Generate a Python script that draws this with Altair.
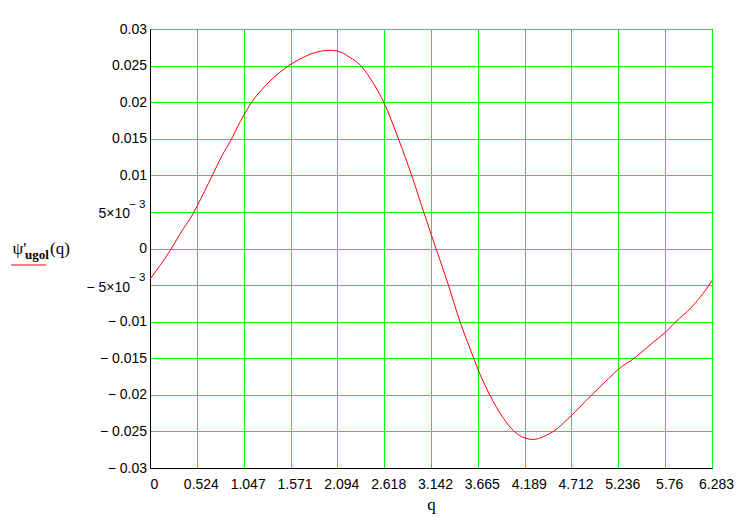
import json
import altair as alt
import pandas as pd

# ---- curve data ----
q_vals = [0.000, 0.224, 0.373, 0.440, 0.522, 0.697, 0.801, 0.913, 0.977, 1.044,
          1.137, 1.249, 1.342, 1.454, 1.565, 1.677, 1.826, 2.013, 2.143, 2.236,
          2.348, 2.460, 2.613, 2.777, 2.925, 3.057, 3.150, 3.336, 3.466,
          3.597, 3.653, 3.802, 3.951, 4.063, 4.190, 4.286, 4.400, 4.510,
          4.696, 4.939, 5.125, 5.237, 5.423, 5.628, 5.766, 5.870, 6.056, 6.186, 6.283]
psi_vals = [-0.0042, -0.0003, 0.0027, 0.0039, 0.0057, 0.0100, 0.0126, 0.0150, 0.0166, 0.0181,
            0.0200, 0.0217, 0.0229, 0.0241, 0.0251, 0.0259, 0.0267, 0.0271, 0.0268, 0.0261,
            0.0251, 0.0233, 0.0200, 0.0150, 0.0100, 0.0051, 0.0017, -0.0050, -0.0100,
            -0.0143, -0.0161, -0.0201, -0.0232, -0.0249, -0.0259, -0.0261, -0.0257, -0.0250,
            -0.0230, -0.0200, -0.0178, -0.0165, -0.0149, -0.0128, -0.0114, -0.0101, -0.0080, -0.0061, -0.0044]

# ---- axis ticks and labels ----
x_ticks = [0, 0.524, 1.047, 1.571, 2.094, 2.618, 3.142, 3.665, 4.189, 4.712, 5.236, 5.76, 6.283]
x_tick_labels = ["0", "0.524", "1.047", "1.571", "2.094", "2.618", "3.142", "3.665",
                 "4.189", "4.712", "5.236", "5.76", "6.283"]
y_ticks = [0.03, 0.025, 0.02, 0.015, 0.01, 0.005, 0, -0.005, -0.01, -0.015, -0.02, -0.025, -0.03]
y_tick_labels = ["0.03", "0.025", "0.02", "0.015", "0.01", "", "0", "",
                 "\u2212 0.01", "\u2212 0.015", "\u2212 0.02", "\u2212 0.025", "\u2212 0.03"]
exp_vals = [0.005, -0.005]
exp_mant = ["5\u00d710", "\u2212 5\u00d710"]
exp_pow = ["\u2212 3", "\u2212 3"]

curve = pd.DataFrame({"q": q_vals, "psi": psi_vals})
exp_df = pd.DataFrame({"v": exp_vals, "m": exp_mant, "p": exp_pow})
one = pd.DataFrame({"k": [0]})

x_expr = "%s[indexof(%s, datum.value)]" % (json.dumps(x_tick_labels, ensure_ascii=False), json.dumps(x_ticks))
y_expr = "%s[indexof(%s, datum.value)]" % (json.dumps(y_tick_labels, ensure_ascii=False), json.dumps(y_ticks))

xscale = alt.Scale(domain=[0, 6.283], nice=False, zero=False)
yscale = alt.Scale(domain=[-0.03, 0.03], nice=False, zero=False)

yaxis = alt.Axis(
    values=y_ticks, labelExpr=y_expr, grid=True, gridColor="#00ff00", gridWidth=1,
    ticks=False, domainColor="black", labelFont="Liberation Sans", labelFontSize=14,
    labelColor="black", labelPadding=3.5, labelOverlap=False, labelFlush=False,
    title=None)

line = alt.Chart(curve).mark_line(color="#ff0000", strokeWidth=1, interpolate="monotone").encode(
    x=alt.X("q:Q", scale=xscale, axis=alt.Axis(
        values=x_ticks, labelExpr=x_expr, grid=True, gridColor="#00ff00", gridWidth=1,
        ticks=False, domainColor="black", labelFont="Liberation Sans", labelFontSize=14,
        labelColor="black", labelPadding=9, labelOffset=4, labelFlush=False, labelOverlap=False,
        title="q", titleFont="Liberation Serif", titleFontSize=17, titleFontWeight="normal",
        titleColor="black", titleBaseline="alphabetic", titleY=41)),
    y=alt.Y("psi:Q", scale=yscale, axis=yaxis),
)

mant = alt.Chart(exp_df).mark_text(align="right", baseline="alphabetic", dy=6.5,
                                   font="Liberation Sans", fontSize=14, color="black").encode(
    x=alt.value(-20), y=alt.Y("v:Q", scale=yscale, axis=yaxis), text="m:N")
powt = alt.Chart(exp_df).mark_text(align="right", baseline="alphabetic", dy=-3.8,
                                   font="Liberation Sans", fontSize=11.5, color="black").encode(
    x=alt.value(-4.5), y=alt.Y("v:Q", scale=yscale, axis=yaxis), text="p:N")

leg_psi = alt.Chart(one).mark_text(align="left", baseline="alphabetic", font="Liberation Serif",
                                   fontSize=17, color="black", text="\u03c8'").encode(
    x=alt.value(-137.5), y=alt.value(225))
leg_sub = alt.Chart(one).mark_text(align="left", baseline="alphabetic", font="Liberation Serif",
                                   fontSize=13, fontWeight="bold", color="black", text="ugol").encode(
    x=alt.value(-125), y=alt.value(229.5))
leg_arg = alt.Chart(one).mark_text(align="left", baseline="alphabetic", font="Liberation Serif",
                                   fontSize=17, color="black", text="(q)").encode(
    x=alt.value(-100), y=alt.value(225))
leg_line = alt.Chart(one).mark_rule(color="#ff0000", strokeWidth=1).encode(
    x=alt.value(-139), x2=alt.value(-104), y=alt.value(236))

chart = alt.layer(line, mant, powt, leg_psi, leg_sub, leg_arg, leg_line).properties(
    width=562, height=439,
    padding={"left": 142, "top": 21, "right": 31, "bottom": 55},
    autosize=alt.AutoSizeParams(type="none"),
    background="white",
).configure_view(stroke="black", strokeWidth=1)

chart.save("out.html", embed_options={"renderer": "svg", "actions": False})
